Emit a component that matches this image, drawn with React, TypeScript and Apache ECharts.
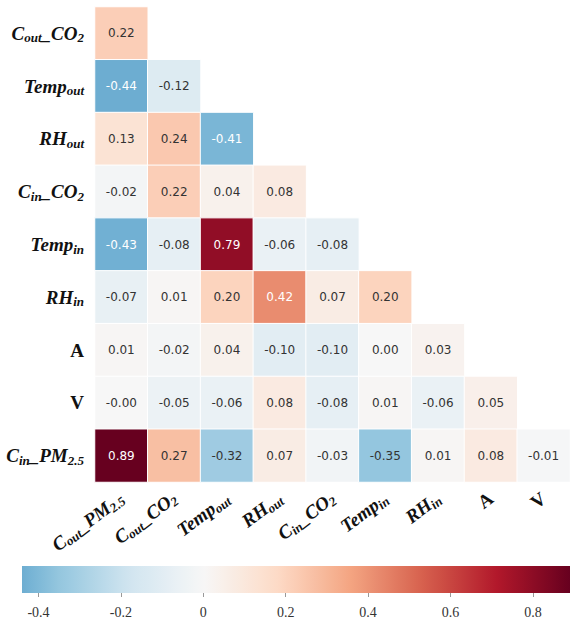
import React, { useEffect, useRef } from 'react';
import * as echarts from 'echarts';

// Columns (x) and rows (y) of the lower-triangular correlation matrix
const xCategories = ['Cout_PM2.5', 'Cout_CO2', 'Temp_out', 'RH_out', 'Cin_CO2', 'Temp_in', 'RH_in', 'A', 'V'];
const yCategories = ['Cout_CO2', 'Temp_out', 'RH_out', 'Cin_CO2', 'Temp_in', 'RH_in', 'A', 'V', 'Cin_PM2.5'];

// One list per row (lower triangle only)
const rowCoutCO2 = [0.22];
const rowTempOut = [-0.44, -0.12];
const rowRHOut = [0.13, 0.24, -0.41];
const rowCinCO2 = [-0.02, 0.22, 0.04, 0.08];
const rowTempIn = [-0.43, -0.08, 0.79, -0.06, -0.08];
const rowRHIn = [-0.07, 0.01, 0.2, 0.42, 0.07, 0.2];
const rowA = [0.01, -0.02, 0.04, -0.1, -0.1, 0.0, 0.03];
const rowV = [-0.001, -0.05, -0.06, 0.08, -0.08, 0.01, -0.06, 0.05];
const rowCinPM25 = [0.89, 0.27, -0.32, 0.07, -0.03, -0.35, 0.01, 0.08, -0.01];
const rows = [rowCoutCO2, rowTempOut, rowRHOut, rowCinCO2, rowTempIn, rowRHIn, rowA, rowV, rowCinPM25];

// Colour bar tick labels
const colorbarTicks = [-0.4, -0.2, 0, 0.2, 0.4, 0.6, 0.8];

// RdBu_r colormap nodes
const rdbuR = ['#053061', '#2166ac', '#4393c3', '#92c5de', '#d1e5f0', '#f7f7f7', '#fddbc7', '#f4a582', '#d6604d', '#b2182b', '#67001f'];

const labelRich: Record<string, string> = {
  'Cout_PM2.5': '{m|C}{s|out}{m|_PM}{s|2.5}',
  'Cout_CO2': '{m|C}{s|out}{m|_CO}{s|2}',
  'Temp_out': '{m|Temp}{s|out}',
  'RH_out': '{m|RH}{s|out}',
  'Cin_CO2': '{m|C}{s|in}{m|_CO}{s|2}',
  'Temp_in': '{m|Temp}{s|in}',
  'RH_in': '{m|RH}{s|in}',
  'A': '{u|A}',
  'V': '{u|V}',
  'Cin_PM2.5': '{m|C}{s|in}{m|_PM}{s|2.5}',
};

const serif = 'Liberation Serif, Times New Roman, serif';
const rich = {
  m: { fontFamily: serif, fontWeight: 'bold', fontStyle: 'italic', fontSize: 19, color: '#111', lineHeight: 22, verticalAlign: 'middle' },
  s: { fontFamily: serif, fontWeight: 'bold', fontStyle: 'italic', fontSize: 13, color: '#111', lineHeight: 11, verticalAlign: 'bottom' },
  u: { fontFamily: serif, fontWeight: 'bold', fontStyle: 'normal', fontSize: 19, color: '#111', lineHeight: 22, verticalAlign: 'middle' },
};

function hexToRgb(h: string) {
  return [parseInt(h.slice(1, 3), 16), parseInt(h.slice(3, 5), 16), parseInt(h.slice(5, 7), 16)];
}

export default function App() {
  const ref = useRef<HTMLDivElement>(null);
  useEffect(() => {
    if (!ref.current) return;
    const chart = echarts.init(ref.current, undefined, { renderer: 'svg' });

    const allVals = rows.flat();
    const vmin = Math.min(...allVals);
    const vmax = Math.max(...allVals);
    const lim = Math.max(Math.abs(vmin), Math.abs(vmax));

    const cmap = (v: number) => {
      let t = (v + lim) / (2 * lim);
      t = Math.max(0, Math.min(1, t));
      const pos = t * (rdbuR.length - 1);
      const i = Math.min(Math.floor(pos), rdbuR.length - 2);
      const f = pos - i;
      const a = hexToRgb(rdbuR[i]);
      const b = hexToRgb(rdbuR[i + 1]);
      const c = a.map((x, k) => Math.round(x + (b[k] - x) * f));
      return `rgb(${c[0]},${c[1]},${c[2]})`;
    };

    const heatData: any[] = [];
    rows.forEach((r, ri) => {
      r.forEach((v, ci) => {
        heatData.push({
          value: [ci, ri, v],
          label: { color: Math.abs(v) >= 0.4 ? '#ffffff' : '#333333' },
        });
      });
    });

    const stops: any[] = [];
    const N = 60;
    for (let k = 0; k <= N; k++) {
      const f = k / N;
      stops.push({ offset: f, color: cmap(vmin + f * (vmax - vmin)) });
    }

    chart.setOption({
      animation: false,
      visualMap: {
        type: 'continuous',
        show: false,
        min: -lim,
        max: lim,
        seriesIndex: 0,
        dimension: 2,
        inRange: { color: rdbuR },
      },
      grid: [
        { left: 95, top: 7, width: 475, height: 475, containLabel: false },
        { left: 22, top: 566, width: 548, height: 27, containLabel: false },
      ],
      xAxis: [
        {
          type: 'category',
          gridIndex: 0,
          data: xCategories,
          position: 'bottom',
          axisLine: { show: false },
          axisTick: { show: false },
          splitLine: { show: false },
          axisLabel: {
            interval: 0,
            rotate: 37,
            margin: 14,
            formatter: (v: string) => labelRich[v] || v,
            rich,
          },
        },
        {
          type: 'value',
          gridIndex: 1,
          min: vmin,
          max: vmax,
          position: 'bottom',
          axisLine: { show: false },
          splitLine: { show: false },
          axisTick: { show: true, length: 4, customValues: colorbarTicks, lineStyle: { color: '#999' } },
          axisLabel: {
            customValues: colorbarTicks,
            margin: 12,
            fontFamily: serif,
            fontSize: 14,
            color: '#333',
            formatter: (v: number) => (v === 0 ? '0' : v.toFixed(1)),
          },
        },
      ],
      yAxis: [
        {
          type: 'category',
          gridIndex: 0,
          data: yCategories,
          inverse: true,
          axisLine: { show: false },
          axisTick: { show: false },
          splitLine: { show: false },
          axisLabel: {
            interval: 0,
            margin: 11,
            formatter: (v: string) => labelRich[v] || v,
            rich,
          },
        },
        {
          type: 'value',
          gridIndex: 1,
          min: 0,
          max: 1,
          show: false,
        },
      ],
      series: [
        {
          type: 'heatmap',
          xAxisIndex: 0,
          yAxisIndex: 0,
          data: heatData,
          itemStyle: { borderColor: '#ffffff', borderWidth: 1 },
          label: {
            show: true,
            fontFamily: 'DejaVu Sans, sans-serif',
            fontSize: 12,
            formatter: (p: any) => (p.value[2] as number).toFixed(2),
          },
          emphasis: { disabled: true },
        },
        {
          type: 'custom',
          xAxisIndex: 1,
          yAxisIndex: 1,
          data: [[vmin, vmax]],
          silent: true,
          renderItem: (params: any, api: any) => {
            const p0 = api.coord([api.value(0), 0]);
            const p1 = api.coord([api.value(1), 1]);
            return {
              type: 'rect',
              shape: { x: p0[0], y: p1[1], width: p1[0] - p0[0], height: p0[1] - p1[1] },
              style: { fill: new echarts.graphic.LinearGradient(0, 0, 1, 0, stops) },
            };
          },
        },
      ],
    });

    return () => chart.dispose();
  }, []);

  return <div ref={ref} style={{ position: 'absolute', left: 0, top: 0, width: 570, height: 624, background: '#fff' }} />;
}
